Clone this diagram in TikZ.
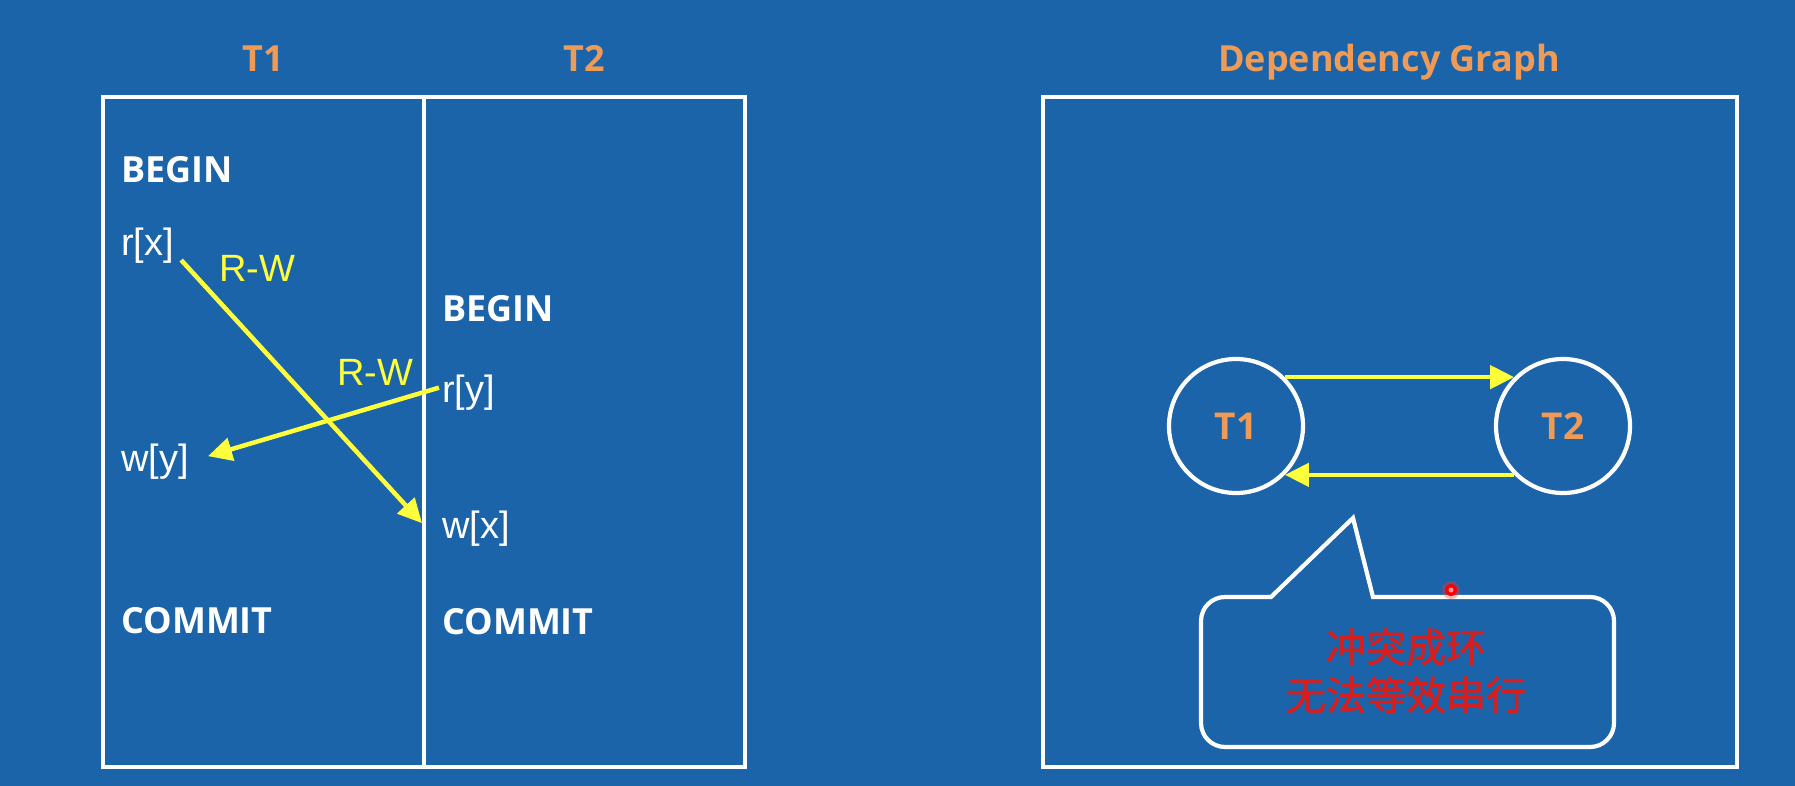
\documentclass[tikz,border=0pt]{standalone}
\usepackage{fontspec}
\newfontfamily\headfont{Open Sans}
\newfontfamily\arialfont{Liberation Sans}
\newfontfamily\cjk{Noto Sans CJK SC}[FakeBold=1.5]
\usetikzlibrary{arrows.meta}
\definecolor{bgblue}{RGB}{27,100,170}
\definecolor{orangetxt}{RGB}{240,155,85}
\definecolor{arrowyellow}{RGB}{255,255,60}
\definecolor{alertred}{RGB}{215,30,30}
\begin{document}
\begin{tikzpicture}[x=1pt,y=-1pt,
  frame/.style={draw=white,line width=3.8pt},
  title/.style={anchor=base,inner sep=0pt,text=orangetxt,font=\headfont\bfseries\fontsize{36}{40}\selectfont},
  kw/.style={anchor=base west,inner sep=0pt,text=white,font=\headfont\bfseries\fontsize{36}{40}\selectfont},
  op/.style={anchor=base west,inner sep=0pt,text=white,font=\arialfont\fontsize{38}{40}\selectfont},
  rw/.style={anchor=base west,inner sep=0pt,text=arrowyellow,font=\arialfont\fontsize{38}{40}\selectfont},
  dep/.style={draw=arrowyellow,line width=4.5pt,-{Triangle[length=24pt,width=23pt]}},
  txnode/.style={circle,draw=white,line width=4.2pt,minimum size=134pt,inner sep=0pt,text=orangetxt,font=\headfont\bfseries\fontsize{37}{40}\selectfont},
  callout/.style={draw=white,line width=4.2pt}
]
\useasboundingbox (0,0) rectangle (1795,786);
\fill[bgblue] (0,0) rectangle (1795,786);

% titles
\node[title] (tt1) at (263,72) {T1};
\node[title] (tt2) at (584,72) {T2};
\node[title] (tdg) at (1389,72) {Dependency Graph};

% schedule table
\draw[frame] (103,97) rectangle (745,767);
\draw[frame] (424,97) -- (424,767);

\node[kw] (b1) at (121,183) {BEGIN};
\node[op] (rx) at (121,256) {r[x]};
\node[op] (wy) at (121,471) {w[y]};
\node[kw] (c1) at (121,633) {COMMIT};

\node[kw] (b2) at (442,321) {BEGIN};
\node[op] (ry) at (442,402) {r[y]};
\node[op] (wx) at (442,538) {w[x]};
\node[kw] (c2) at (442,634) {COMMIT};

\draw[dep] ([xshift=7pt,yshift=4pt]rx.south east) -- ([xshift=-20pt,yshift=5pt]wx.west);
\draw[dep] ([xshift=-3pt,yshift=4.5pt]ry.west) -- ([xshift=19pt,yshift=5pt]wy.east);
\node[rw] (rw1) at (219,281) {R-W};
\node[rw] (rw2) at (337,385) {R-W};

% dependency graph
\draw[frame] (1043,97) rectangle (1737,767);
\node[txnode] (g1) at (1236,426) {T1};
\node[txnode] (g2) at (1563,426) {T2};
\draw[dep] (g1.45) -- (g2.135);
\draw[dep] (g2.-135) -- (g1.-45);

% callout
\draw[callout,rounded corners=24pt] (1236,597) -- (1201,597) -- (1201,747) -- (1614,747) -- (1614,597) -- (1400,597) [sharp corners] -- (1373,597) -- (1353,518) -- (1271,597) -- cycle;
\node[text=alertred,font=\cjk\fontsize{40}{48}\selectfont,align=center,inner sep=0pt] (msg) at (1406,671) {冲突成环\\无法等效串行};

% laser pointer dot
\fill[red!80!white,opacity=0.35] (1451,590) circle (9);
\fill[red] (1451,590) circle (6);
\fill[red!40!white] (1451,590) circle (2.5);
\end{tikzpicture}
\end{document}
